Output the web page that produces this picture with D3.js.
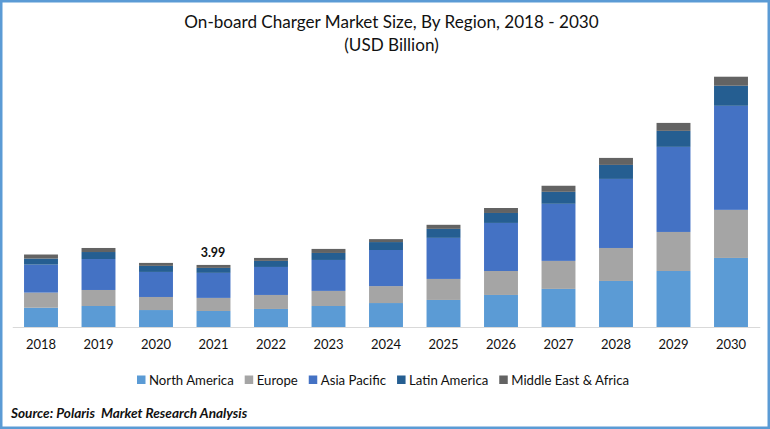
<!DOCTYPE html>
<html>
<head>
<meta charset="utf-8">
<script src="https://d3js.org/d3.v7.min.js"></script>
<style>
    html, body { margin: 0; padding: 0; background: #fff; }
    svg { display: block; }
    text { font-family: Lato, Carlito, "Open Sans", sans-serif; fill: #111; }
</style>
</head>
<body>
<div id="chart"></div>
<script>
(function () {
    'use strict';
    var years = ['2018', '2019', '2020', '2021', '2022', '2023', '2024', '2025', '2026', '2027', '2028', '2029', '2030'];
    var regions = ['North America', 'Europe', 'Asia Pacific', 'Latin America', 'Middle East & Africa'];
    var colors = ['#5b9bd5', '#a5a5a5', '#4472c4', '#255e91', '#636363'];

    var northAmerica = [1.24, 1.35, 1.09, 1.03, 1.16, 1.35, 1.54, 1.74, 2.06, 2.45, 2.96, 3.60, 4.44];
    var europe = [0.97, 1.03, 0.84, 0.84, 0.90, 0.97, 1.09, 1.35, 1.54, 1.80, 2.12, 2.51, 3.09];
    var asiaPacific = [1.80, 1.99, 1.61, 1.61, 1.80, 1.99, 2.32, 2.64, 3.09, 3.67, 4.44, 5.47, 6.69];
    var latinAmerica = [0.39, 0.45, 0.39, 0.32, 0.39, 0.45, 0.51, 0.58, 0.64, 0.77, 0.90, 1.03, 1.29];
    var middleEast = [0.26, 0.26, 0.19, 0.19, 0.19, 0.26, 0.19, 0.26, 0.32, 0.39, 0.45, 0.51, 0.58];
    var labelledYear = '2021', labelText = '3.99';

    var width = 770, height = 429;
    var series = [northAmerica, europe, asiaPacific, latinAmerica, middleEast];

    var svg = d3.select('#chart').append('svg')
        .attr('width', width)
        .attr('height', height);

    // page frame
    svg.append('rect')
        .attr('x', 1.25).attr('y', 1.25)
        .attr('width', width - 2.5).attr('height', height - 2.5)
        .attr('fill', '#fff')
        .attr('stroke', '#5b9bd5')
        .attr('stroke-width', 2.5);

    var x = d3.scaleBand().domain(years).range([12.25, 759.75]).paddingInner(0.41).paddingOuter(0.205);
    var y = d3.scaleLinear().domain([0, 18]).range([327, 47]);

    var table = years.map(function (yr, i) {
        var row = {year: yr};
        regions.forEach(function (r, k) { row[r] = series[k][i]; });
        return row;
    });
    var stacked = d3.stack().keys(regions)(table);

    svg.append('g').selectAll('g')
        .data(stacked)
        .enter().append('g')
        .attr('fill', function (d, i) { return colors[i]; })
        .selectAll('rect')
        .data(function (d) { return d; })
        .enter().append('rect')
        .attr('x', function (d) { return x(d.data.year); })
        .attr('y', function (d) { return y(d[1]); })
        .attr('width', x.bandwidth())
        .attr('height', function (d) { return y(d[0]) - y(d[1]); });

    // category axis
    var axis = svg.append('g')
        .attr('transform', 'translate(0,' + y(0) + ')')
        .call(d3.axisBottom(x).tickSize(0).tickPadding(13));
    axis.select('.domain').attr('stroke', '#d9d9d9').attr('stroke-width', 1.2);
    axis.selectAll('text').attr('font-size', 13).attr('font-family', null).style('fill', '#111');

    // the single data label
    var top = stacked[stacked.length - 1][years.indexOf(labelledYear)];
    svg.append('text')
        .attr('x', x(labelledYear) + x.bandwidth() / 2 - 0.5)
        .attr('y', y(top[1]) - 8)
        .attr('text-anchor', 'middle')
        .attr('font-size', 12.5)
        .attr('font-weight', 700)
        .text(labelText);

    // titles
    svg.append('text')
        .attr('x', 391.5).attr('y', 27.5)
        .attr('text-anchor', 'middle')
        .attr('font-size', 17.1)
        .text('On-board Charger Market Size, By Region, 2018 - 2030');
    svg.append('text')
        .attr('x', 391.5).attr('y', 50.5)
        .attr('text-anchor', 'middle')
        .attr('font-size', 17.1)
        .text('(USD Billion)');

    // legend, laid out from the measured label widths
    var legendX = 137;
    regions.forEach(function (r, i) {
        svg.append('rect')
            .attr('x', legendX).attr('y', 375.5)
            .attr('width', 8.5).attr('height', 8.5)
            .attr('fill', colors[i]);
        var t = svg.append('text')
            .attr('x', legendX + 12).attr('y', 384.5)
            .attr('font-size', 13.2)
            .text(r);
        legendX += 12 + t.node().getComputedTextLength() + 11;
    });

    svg.append('text')
        .attr('x', 11).attr('y', 418)
        .attr('font-size', 13.6)
        .attr('font-weight', 700)
        .attr('font-style', 'italic')
        .text('Source: Polaris  Market Research Analysis')
        .attr('xml:space', 'preserve')
        .style('white-space', 'pre');
}());
</script>
</body>
</html>
